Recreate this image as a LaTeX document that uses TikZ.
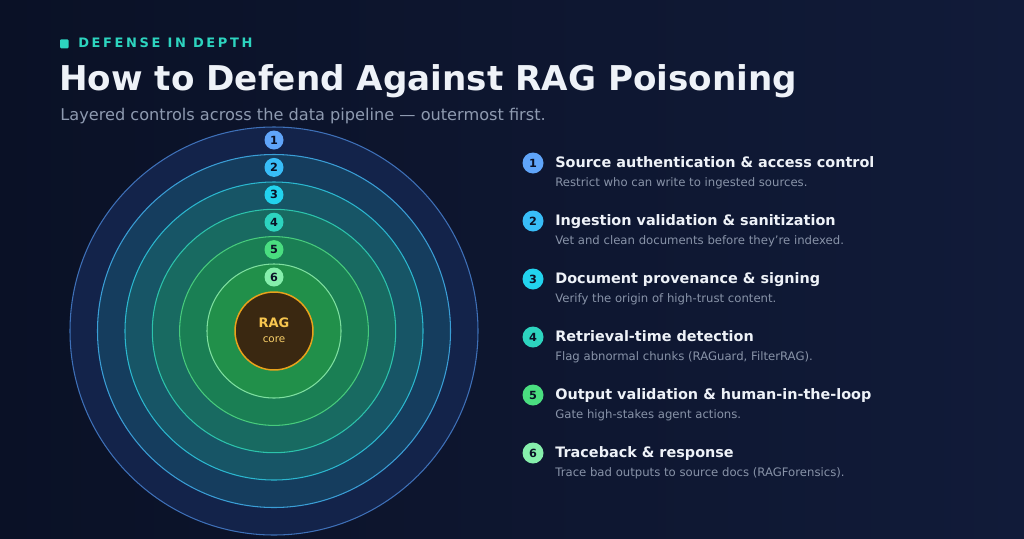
\documentclass[tikz,border=0pt]{standalone}
\usepackage{fontspec}
\setmainfont{DejaVu Sans}
\usetikzlibrary{positioning}
\definecolor{bgleft}{HTML}{0A1126}
\definecolor{bgright}{HTML}{111B39}
\definecolor{ringa}{HTML}{13234A}
\definecolor{ringb}{HTML}{153D5E}
\definecolor{ringc}{HTML}{175566}
\definecolor{ringd}{HTML}{186A61}
\definecolor{ringe}{HTML}{1A7F54}
\definecolor{ringf}{HTML}{21904A}
\definecolor{edgea}{HTML}{3E70B8}
\definecolor{edgeb}{HTML}{3A9ED6}
\definecolor{edgec}{HTML}{2BB7CF}
\definecolor{edged}{HTML}{2CC3AC}
\definecolor{edgee}{HTML}{47CB7C}
\definecolor{edgef}{HTML}{7EDFA0}
\definecolor{dota}{HTML}{60A5FA}
\definecolor{dotb}{HTML}{38BDF8}
\definecolor{dotc}{HTML}{22D3EE}
\definecolor{dotd}{HTML}{2DD4BF}
\definecolor{dote}{HTML}{4ADE80}
\definecolor{dotf}{HTML}{86EFAC}
\definecolor{kicker}{HTML}{2DD4BF}
\definecolor{headtxt}{HTML}{EEF2F8}
\definecolor{subtxt}{HTML}{8E9AB0}
\definecolor{desctxt}{HTML}{8893A8}
\definecolor{corefill}{HTML}{3A2811}
\definecolor{coreedge}{HTML}{E9A21B}
\definecolor{coretxt}{HTML}{F7C64F}

\begin{document}
\begin{tikzpicture}[x=0.02cm,y=-0.02cm,
  ring/.style={line width=0.6pt},
  ringdot/.style={circle,inner sep=0pt,minimum size=0.38cm,text=bgleft,font=\bfseries\fontsize{6.4}{7}\selectfont},
  listdot/.style={circle,inner sep=0pt,minimum size=0.42cm,text=bgleft,font=\bfseries\fontsize{6.4}{7}\selectfont},
  itemhead/.style={anchor=base west,inner sep=0pt,text=headtxt,font=\bfseries\fontsize{8.2}{9}\selectfont},
  itemdesc/.style={anchor=base west,inner sep=0pt,text=desctxt,font=\fontsize{6.65}{7}\selectfont}]

  \fill[left color=bgleft,right color=bgright] (0,0) rectangle (1024,538);
  \useasboundingbox (0,0) rectangle (1024,538);

  % header
  \fill[kicker,rounded corners=0.6pt] (60,39.3) rectangle (68.5,48.3);
  \node[anchor=base west,inner sep=0pt,text=kicker,font=\bfseries\fontsize{7.4}{9}\selectfont\addfontfeature{LetterSpace=20}] (kick) at (78,47.7) {DEFENSE IN DEPTH};
  \node[anchor=base west,inner sep=0pt,text=headtxt,font=\bfseries\fontsize{19.45}{22}\selectfont] (title) at (59,90) {How to Defend Against RAG Poisoning};
  \node[anchor=base west,inner sep=0pt,text=subtxt,font=\fontsize{9.2}{11}\selectfont] (subtitle) at (60,120) {Layered controls across the data pipeline --- outermost first.};

  % rings, outermost first
  \coordinate (c) at (274,331);
  \foreach \r/\f/\s in {204/ringa/edgea,176.5/ringb/edgeb,149/ringc/edgec,121.7/ringd/edged,94.4/ringe/edgee,67/ringf/edgef}{
     \draw[ring,fill=\f,draw=\s] (c) circle[radius=\r];
  }
  \foreach \i/\d in {1/dota,2/dotb,3/dotc,4/dotd,5/dote,6/dotf}{
     \node[ringdot,fill=\d] (rd\i) at (274,{140+27.4*(\i-1)}) {\i};
  }
  \node[circle,minimum size=1.56cm,inner sep=0pt,fill=corefill,draw=coreedge,line width=0.85pt] (core) at (c) {};
  \node[text=coretxt,font=\bfseries\fontsize{7.4}{9}\selectfont] (ragtxt) at (274,323) {RAG};
  \node[text=coretxt!85,font=\fontsize{5.9}{7}\selectfont] (coretxt) at (274,340) {core};

  % list of controls
  \node[listdot,fill=dota] (ld1) at (533,163) {1};
  \node[itemhead] (h1) at (555,167.3) {Source authentication \& access control};
  \node[itemdesc] (d1) at (555,186) {Restrict who can write to ingested sources.};

  \node[listdot,fill=dotb] (ld2) at (533,221) {2};
  \node[itemhead] (h2) at (555,225.3) {Ingestion validation \& sanitization};
  \node[itemdesc] (d2) at (555,244) {Vet and clean documents before they’re indexed.};

  \node[listdot,fill=dotc] (ld3) at (533,279) {3};
  \node[itemhead] (h3) at (555,283.3) {Document provenance \& signing};
  \node[itemdesc] (d3) at (555,302) {Verify the origin of high-trust content.};

  \node[listdot,fill=dotd] (ld4) at (533,337) {4};
  \node[itemhead] (h4) at (555,341.3) {Retrieval-time detection};
  \node[itemdesc] (d4) at (555,360) {Flag abnormal chunks (RAGuard, FilterRAG).};

  \node[listdot,fill=dote] (ld5) at (533,395) {5};
  \node[itemhead] (h5) at (555,399.3) {Output validation \& human-in-the-loop};
  \node[itemdesc] (d5) at (555,418) {Gate high-stakes agent actions.};

  \node[listdot,fill=dotf] (ld6) at (533,453) {6};
  \node[itemhead] (h6) at (555,457.3) {Traceback \& response};
  \node[itemdesc] (d6) at (555,476) {Trace bad outputs to source docs (RAGForensics).};

\end{tikzpicture}
\end{document}
